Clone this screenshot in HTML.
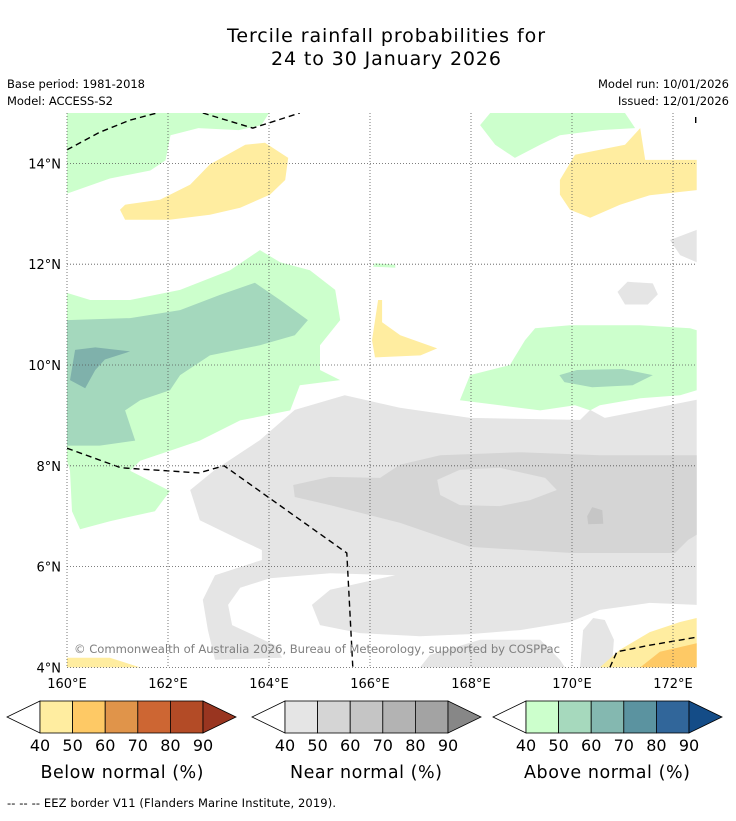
<!DOCTYPE html>
<html><head><meta charset="utf-8"><style>
body{margin:0;background:#fff;}
svg text{font-family:"DejaVu Sans","Liberation Sans",sans-serif;}
</style></head><body>
<svg id="s" width="736" height="816" viewBox="0 0 736 816" xmlns="http://www.w3.org/2000/svg">
<text x="386" y="42" font-size="19" text-anchor="middle" textLength="318">Tercile rainfall probabilities for</text>
<text x="386" y="65" font-size="19" text-anchor="middle" textLength="230">24 to 30 January 2026</text>
<text x="7" y="88" font-size="11.5" textLength="138">Base period: 1981-2018</text>
<text x="7" y="105" font-size="11.5" textLength="106">Model: ACCESS-S2</text>
<text x="729" y="88" font-size="11.5" text-anchor="end" textLength="131">Model run: 10/01/2026</text>
<text x="729" y="105" font-size="11.5" text-anchor="end" textLength="111">Issued: 12/01/2026</text>
<defs><clipPath id="cp"><rect x="67" y="113" width="630" height="555"/></clipPath></defs>
<g id="map" clip-path="url(#cp)"></g>
<g id="axes"></g>
<text x="74" y="653" font-size="11.6" fill="#808080" textLength="486">© Commonwealth of Australia 2026, Bureau of Meteorology, supported by COSPPac</text>
<g id="cbars"></g>
<text x="122" y="778" font-size="17.5" text-anchor="middle" textLength="163">Below normal (%)</text>
<text x="366" y="778" font-size="17.5" text-anchor="middle" textLength="152">Near normal (%)</text>
<text x="607" y="778" font-size="17.5" text-anchor="middle" textLength="166">Above normal (%)</text>
<text x="7" y="807" font-size="11.5" textLength="329">--  --  -- EEZ border V11 (Flanders Marine Institute, 2019).</text>
</svg>
<script>
const lonTicks=[160,162,164,166,168,170,172];
const latTicks=[4,6,8,10,12,14];
const greenTL=[[164.0,15],[163.85,14.76],[163.4,14.66],[162.6,14.7],[162.05,14.56],[161.95,14.06],[161.65,13.86],[160.85,13.7],[160,13.4],[160,15]];
const yellowTop=[[161.05,13.08],[161.15,13.18],[161.84,13.28],[162.44,13.58],[162.83,13.98],[163.53,14.37],[163.92,14.41],[164.38,14.11],[164.32,13.67],[164.02,13.38],[163.43,13.12],[162.83,12.98],[162.03,12.88],[161.15,12.88]];
const greenTR=[[168.18,14.76],[168.38,15],[171.05,15],[171.25,14.7],[170.55,14.66],[169.76,14.56],[169.37,14.37],[168.87,14.11],[168.48,14.37]];
const yellowTR=[[169.76,13.67],[170.06,14.17],[170.75,14.31],[171.05,14.37],[171.35,14.7],[171.45,14.07],[172.47,14.07],[172.47,13.47],[171.54,13.37],[170.95,13.18],[170.36,12.92],[169.96,13.08],[169.76,13.38]];
const greyR=[[171.94,12.48],[172.47,12.68],[172.47,12.04],[172.14,12.18]];
const greyBlob=[[170.9,11.45],[171.1,11.65],[171.6,11.62],[171.7,11.4],[171.5,11.2],[171.05,11.2]];
const greenL=[[160,11.43],[160.46,11.29],[161.25,11.29],[162.24,11.49],[163.23,11.88],[163.82,12.28],[164.22,12.04],[164.81,11.88],[165.31,11.49],[165.41,10.89],[165.01,10.39],[165.01,9.9],[165.41,9.7],[164.61,9.6],[164.42,9.1],[163.43,8.9],[162.63,8.5],[162.04,8.3],[161.45,8.1],[161.25,7.9],[162.04,7.5],[161.74,7.1],[160.85,6.9],[160.26,6.74],[160.1,7.1],[160.06,7.9],[160,8.1]];
const green2L=[[160,10.89],[161.25,10.93],[162.24,11.09],[163.03,11.39],[163.72,11.63],[164.22,11.29],[164.77,10.89],[164.51,10.59],[163.82,10.39],[162.83,10.19],[162.24,9.8],[162.04,9.5],[161.45,9.3],[161.15,9.1],[161.35,8.5],[160.65,8.4],[160,8.4]];
const green3L=[[160.16,10.3],[160.56,10.35],[161.25,10.27],[160.75,10.11],[160.56,9.9],[160.36,9.54],[160.06,9.7]];
const yellowMid=[[166.16,11.29],[166.24,11.29],[166.24,10.85],[166.6,10.59],[167.33,10.33],[167.0,10.19],[166.1,10.15],[166.04,10.49]];
const greenSmall=[[166.06,11.95],[166.5,11.93],[166.5,11.99],[166.1,12.02]];
const greenR=[[167.78,9.3],[167.98,9.8],[168.77,10.0],[169.07,10.49],[169.27,10.73],[169.96,10.79],[171.35,10.79],[172.34,10.73],[172.47,10.69],[172.47,9.5],[172.14,9.4],[171.35,9.34],[170.55,9.2],[170.36,9.1],[170.06,9.2],[169.37,9.1],[168.57,9.2]];
const green2R=[[169.75,9.8],[170.1,9.9],[171.0,9.92],[171.6,9.8],[171.2,9.6],[170.4,9.56],[169.85,9.66]];
const grey1=[[162.44,7.52],[162.93,7.92],[163.82,8.51],[164.51,9.11],[165.5,9.4],[166.59,9.15],[167.98,8.95],[170.16,8.91],[170.36,9.11],[170.65,8.95],[172.47,9.31],[172.47,5.24],[171.54,5.28],[170.55,5.14],[169.96,4.9],[168.97,4.74],[167.98,4.66],[166.99,4.62],[165.8,4.68],[165.01,4.84],[164.85,5.24],[165.21,5.54],[166.5,5.83],[165.21,5.87],[164.02,5.77],[163.43,5.58],[163.19,5.24],[163.27,4.84],[164.12,4.44],[164.26,4.19],[162.93,4.15],[162.79,4.74],[162.69,5.34],[162.93,5.83],[163.86,6.13],[163.86,6.33],[163.43,6.53],[162.63,6.92]];
const grey1b=[[166.99,4.0],[167.19,4.25],[168.18,4.55],[169.37,4.55],[169.76,4.15],[169.86,4.0]];
const grey1c=[[170.16,4],[170.22,4.74],[170.42,4.98],[170.65,4.94],[170.83,4.55],[170.79,4.0]];
const grey2=[[164.48,7.62],[165.21,7.78],[166.2,7.76],[166.59,8.02],[167.39,8.21],[168.97,8.27],[170.55,8.21],[172.47,8.21],[172.47,6.63],[172.3,6.53],[172.04,6.27],[170.0,6.27],[167.98,6.39],[166.59,6.87],[165.21,7.22],[164.51,7.38]];
const grey2hole=[[167.33,7.72],[167.78,7.92],[168.57,7.96],[169.47,7.76],[169.7,7.52],[169.17,7.32],[168.57,7.2],[167.78,7.22],[167.39,7.42]];
const grey3=[[170.3,7.0],[170.4,7.18],[170.6,7.12],[170.62,6.85],[170.32,6.84]];
const yellowBL=[[160,4.19],[160.85,4.19],[161.45,4.0],[160,4.0]];
const yellowBR=[[170.55,4],[170.95,4.35],[171.54,4.7],[172.14,4.9],[172.47,4.98],[172.47,4]];
const orangeBR=[[171.35,4],[171.74,4.31],[172.47,4.48],[172.47,4]];
const eez1=[[160,14.27],[160.65,14.62],[161.25,14.86],[161.78,15]];
const eez2=[[162.69,15],[163.68,14.7],[164.61,15]];
const eez3=[[160,8.35],[161.07,7.96],[162.61,7.86],[163.11,8.0],[165.54,6.27],[165.6,5.14],[165.66,4.0]];
const eez4=[[170.75,4],[170.89,4.31],[171.54,4.44],[172.47,4.6]];
const eez5=[[172.45,14.92],[172.45,14.78]];

const X=lon=>67+(lon-160)*50.5;
const Y=lat=>113+(15-lat)*50.4;
const NS='http://www.w3.org/2000/svg';
const map=document.getElementById('map');
const axes=document.getElementById('axes');
function pts(a){return a.map(p=>X(p[0]).toFixed(1)+','+Y(p[1]).toFixed(1)).join(' ');}
function poly(a,fill,name){
  const e=document.createElementNS(NS,'polygon');
  e.setAttribute('points',pts(a));e.setAttribute('fill',fill);
  
  
  map.appendChild(e);}
function line(a,name){
  const e=document.createElementNS(NS,'polyline');
  e.setAttribute('points',pts(a));e.setAttribute('fill','none');
  e.setAttribute('stroke','#000');e.setAttribute('stroke-width','1.4');e.setAttribute('stroke-dasharray','6,4');
  
  
  map.appendChild(e);}
const G1='#e5e5e5',G2='#d5d5d5',G3='#c6c6c6',A1='#ccffcc',A2='#a4d8bd',A3='#7fb1ab',B1='#ffeda0',B2='#fec965';
poly(grey1,G1,'near-normal-40');poly(grey1b,G1,'near-normal-40');poly(grey1c,G1,'near-normal-40');
poly(grey2,G2,'near-normal-50');poly(grey2hole,G1,'near-normal-40');poly(grey3,G3,'near-normal-60');
poly(greyR,G1,'near-normal-40');poly(greyBlob,G1,'near-normal-40');
poly(greenTL,A1,'above-normal-40');poly(greenTR,A1,'above-normal-40');poly(greenL,A1,'above-normal-40');
poly(green2L,A2,'above-normal-50');poly(green3L,A3,'above-normal-60');poly(greenSmall,A1,'above-normal-40');
poly(greenR,A1,'above-normal-40');poly(green2R,A2,'above-normal-50');
poly(yellowTop,B1,'below-normal-40');poly(yellowTR,B1,'below-normal-40');poly(yellowMid,B1,'below-normal-40');
poly(yellowBL,B1,'below-normal-40');poly(yellowBR,B1,'below-normal-40');poly(orangeBR,B2,'below-normal-50');
line(eez1,'eez-border');line(eez2,'eez-border');line(eez3,'eez-border');line(eez4,'eez-border');line(eez5,'eez-border');
lonTicks.forEach(l=>{
  const g=document.createElementNS(NS,'line');
  g.setAttribute('x1',X(l));g.setAttribute('x2',X(l));g.setAttribute('y1',113);g.setAttribute('y2',668);
  g.setAttribute('stroke','#555');g.setAttribute('stroke-width','0.8');g.setAttribute('stroke-dasharray','1,2');
  
  
  axes.appendChild(g);
  const t=document.createElementNS(NS,'text');
  t.setAttribute('x',X(l));t.setAttribute('y',688);t.setAttribute('font-size','13');t.setAttribute('text-anchor','middle');
  t.textContent=l+'°E';
  
  
  axes.appendChild(t);});
latTicks.forEach(l=>{
  const g=document.createElementNS(NS,'line');
  g.setAttribute('x1',67);g.setAttribute('x2',697);g.setAttribute('y1',Y(l));g.setAttribute('y2',Y(l));
  g.setAttribute('stroke','#555');g.setAttribute('stroke-width','0.8');g.setAttribute('stroke-dasharray','1,2');
  
  
  axes.appendChild(g);
  const t=document.createElementNS(NS,'text');
  t.setAttribute('x',61);t.setAttribute('y',Y(l)+5);t.setAttribute('font-size','13');t.setAttribute('text-anchor','end');
  t.textContent=l+'°N';
  
  
  axes.appendChild(t);});

const cbLabels=[40,50,60,70,80,90];
const cbBelow=['#ffeda0','#fec965','#e0944a','#cd6633','#b34b26','#993520'];
const cbNear=['#e5e5e5','#d5d5d5','#c5c5c5','#b3b3b3','#a3a3a3','#878787'];
const cbAbove=['#ccffcc','#a6d9bd','#84b8b0','#5b93a0','#31669a','#144c87'];
const cb=document.getElementById('cbars');
function colorbar(x0,cols,name){
  const w=32.6,y0=701,h=32;
  const l=document.createElementNS(NS,'polygon');
  l.setAttribute('points',`${x0},${y0} ${x0-33},${y0+h/2} ${x0},${y0+h}`);
  l.setAttribute('fill','#fff');l.setAttribute('stroke','#000');l.setAttribute('stroke-width','0.8');
  
  
  cb.appendChild(l);
  for(let i=0;i<5;i++){
    const r=document.createElementNS(NS,'rect');
    r.setAttribute('x',x0+i*w);r.setAttribute('y',y0);r.setAttribute('width',w);r.setAttribute('height',h);
    r.setAttribute('fill',cols[i]);r.setAttribute('stroke','#000');r.setAttribute('stroke-width','0.8');
    
    
    cb.appendChild(r);}
  const xe=x0+5*w;
  const e=document.createElementNS(NS,'polygon');
  e.setAttribute('points',`${xe},${y0} ${xe+33},${y0+h/2} ${xe},${y0+h}`);
  e.setAttribute('fill',cols[5]);e.setAttribute('stroke','#000');e.setAttribute('stroke-width','0.8');
  
  
  cb.appendChild(e);
  cbLabels.forEach((v,i)=>{
    const t=document.createElementNS(NS,'text');
    t.setAttribute('x',x0+i*w);t.setAttribute('y',751);t.setAttribute('font-size','16');t.setAttribute('text-anchor','middle');
    t.textContent=v;
    
    
    cb.appendChild(t);});}
colorbar(40,cbBelow,'below-colorbar');
colorbar(285,cbNear,'near-colorbar');
colorbar(526,cbAbove,'above-colorbar');
</script>
</body></html>
